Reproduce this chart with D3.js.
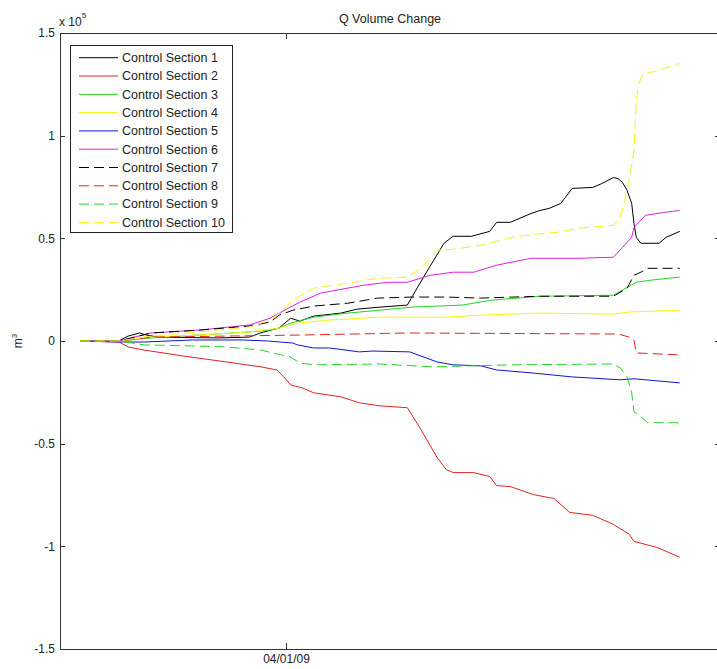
<!DOCTYPE html>
<html>
<head>
<meta charset="utf-8">
<script src="https://cdn.jsdelivr.net/npm/d3@7"></script>
<style>
  body { margin: 0; background: #fff; }
  svg { display: block; font-family: "Liberation Sans", Arial, sans-serif; }
  .axis path, .axis line { stroke: #333; shape-rendering: crispEdges; }
  .axis text { fill: #222; font-size: 12px; }
</style>
</head>
<body>
<script>
var width = 717,
    height = 669,
    plotLeft = 60, plotRight = 720, plotTop = 33, plotBottom = 649;

// days since 01/01/09, volume change in m3
var cs1 = [[0,0],[17,0],[21,2400],[26,3900],[29,2900],[34,1900],[60,1500],[74,1900],[79,4000],[84,5500],[87,6300],[92,11100],[96,9700],[102,12100],[114,13600],[121,15500],[131,16500],[143,17500],[145,21400],[150,31000],[159,47600],[163,51000],[171,51000],[179,53400],[182,57800],[188,57800],[197,62100],[201,63600],[205,64600],[210,67000],[215,74300],[224,74800],[228,76700],[233,79600],[235,79100],[237,77200],[239,73300],[241,67000],[242,57300],[243,50500],[245,47600],[253,47600],[256,50500],[262,53400]];
var cs2 = [[0,0],[17,-500],[21,-2900],[28,-4400],[45,-7300],[64,-10200],[79,-12600],[86,-14100],[89,-17500],[92,-21400],[97,-22800],[102,-25200],[114,-27200],[122,-30100],[131,-31600],[143,-32500],[149,-43200],[156,-56800],[160,-62600],[163,-64100],[172,-64100],[179,-66000],[182,-70400],[188,-70900],[198,-74800],[207,-76700],[214,-83500],[224,-84900],[233,-89300],[240,-94200],[242,-97600],[252,-100500],[262,-105300]];
var cs3 = [[0,0],[17,0],[31,1500],[52,2900],[74,4400],[83,5300],[87,6300],[92,8700],[102,11600],[117,13600],[131,15000],[145,16500],[167,17500],[180,19900],[201,21800],[233,22300],[237,24800],[243,28600],[249,29600],[262,31100]];
var cs4 = [[0,0],[17,0],[31,1900],[52,2900],[74,4400],[87,6300],[95,8700],[109,10200],[131,11600],[160,11600],[175,12600],[201,13600],[233,13100],[240,14100],[262,15000]];
var cs5 = [[0,0],[17,-500],[28,-500],[49,500],[71,500],[82,0],[93,-1000],[95,-1900],[102,-3400],[109,-3400],[122,-5300],[128,-4900],[144,-5300],[156,-10200],[163,-11600],[175,-12100],[182,-14100],[197,-15500],[215,-17500],[236,-18900],[242,-18400],[262,-20400]];
var cs6 = [[0,0],[17,0],[31,3900],[52,5300],[74,7800],[83,11100],[87,13600],[96,18900],[105,23300],[124,27200],[135,28600],[143,28600],[153,32000],[163,33500],[172,33500],[182,36900],[197,40300],[218,40300],[233,40800],[237,45600],[241,50500],[242,55300],[247,61200],[255,62600],[262,63600]];
var cs7 = [[0,0],[17,0],[31,3900],[52,5300],[74,7300],[83,9200],[87,12600],[93,15000],[102,17000],[117,18400],[130,20900],[145,21400],[160,21400],[175,20900],[189,21400],[201,21800],[233,21800],[239,25700],[242,32000],[245,33500],[248,35400],[262,35400]];
var cs8 = [[0,0],[17,0],[32,1900],[96,2900],[143,3900],[235,3400],[240,1900],[242,500],[243,-5800],[262,-6800]];
var cs9 = [[0,0],[17,0],[28,-1900],[49,-2400],[64,-2900],[79,-4400],[84,-5800],[92,-7800],[96,-10700],[102,-11600],[131,-11200],[154,-12600],[189,-11600],[233,-11200],[236,-13100],[239,-17500],[241,-25200],[242,-34500],[245,-36900],[248,-39800],[262,-39800]];
var cs10 = [[0,0],[17,0],[31,2400],[52,4400],[74,6800],[83,10200],[87,13600],[93,19900],[102,25700],[117,28200],[131,30600],[143,31100],[149,35400],[156,44200],[163,44700],[175,46600],[189,50500],[198,51900],[208,52900],[218,54900],[233,56300],[236,60200],[238,68400],[240,79600],[242,92700],[243,117000],[244,125200],[246,130100],[252,131500],[261,134900],[262,135000]];

var sectionNames = ["Control Section 1","Control Section 2","Control Section 3","Control Section 4","Control Section 5",
                    "Control Section 6","Control Section 7","Control Section 8","Control Section 9","Control Section 10"];
var yTicks = [-150000, -100000, -50000, 0, 50000, 100000, 150000];
var xTickDates = ["04/01/09"];

var colors = ["#000000","#e02424","#20d820","#f4f410","#1414d0","#e020e0","#000000","#e02424","#20d820","#f4f410"];
var dashes = [null,null,null,null,null,null,"10,5","10,5","10,5","10,5"];

var start = new Date(2009, 0, 1);
var parseDate = d3.timeParse("%m/%d/%y");
var series = [cs1,cs2,cs3,cs4,cs5,cs6,cs7,cs8,cs9,cs10].map(function(s, i) {
  return {name: sectionNames[i], values: s.map(function(p) {
    return {date: d3.timeDay.offset(start, p[0]), v: p[1]};
  })};
});

var svg = d3.select("body")
            .append("svg")
            .attr("width", width)
            .attr("height", height);

var x = d3.scaleTime()
          .domain([new Date(2008, 11, 23, 6), new Date(2009, 9, 7, 14)])
          .range([plotLeft, plotRight]);
var y = d3.scaleLinear()
          .domain([-150000, 150000])
          .range([plotBottom, plotTop]);

var fmtY = function(d) { return String(+(d / 100000).toFixed(1)); };

// axes (ticks point inward like matlab)
svg.append("g").attr("class", "axis")
   .attr("transform", "translate(0," + plotBottom + ")")
   .call(d3.axisBottom(x).tickValues(xTickDates.map(parseDate))
           .tickFormat(d3.timeFormat("%m/%d/%y")).tickSizeInner(-6).tickSizeOuter(0).tickPadding(5));
svg.append("g").attr("class", "axis")
   .attr("transform", "translate(0," + plotTop + ")")
   .call(d3.axisTop(x).tickValues(xTickDates.map(parseDate))
           .tickFormat("").tickSizeInner(-6).tickSizeOuter(0));
svg.append("g").attr("class", "axis")
   .attr("transform", "translate(" + plotLeft + ",0)")
   .call(d3.axisLeft(y).tickValues(yTicks).tickFormat(fmtY)
           .tickSizeInner(-5).tickSizeOuter(0).tickPadding(5));
svg.append("g").attr("class", "axis")
   .attr("transform", "translate(" + plotRight + ",0)")
   .call(d3.axisRight(y).tickValues(yTicks).tickFormat("")
           .tickSizeInner(-5).tickSizeOuter(0));

// lines
var valueLine = d3.line()
                  .x(function(d) { return x(d.date); })
                  .y(function(d) { return y(d.v); });

svg.append("g")
   .selectAll("path")
   .data(series)
   .enter()
   .append("path")
   .attr("d", function(d) { return valueLine(d.values); })
   .attr("fill", "none")
   .attr("stroke", function(d, i) { return colors[i]; })
   .attr("stroke-width", 1)
   .attr("stroke-dasharray", function(d, i) { return dashes[i]; });

// title, exponent, y label
svg.append("text")
   .attr("x", (plotLeft + plotRight) / 2)
   .attr("y", 23)
   .attr("text-anchor", "middle")
   .attr("font-size", "12.5px")
   .attr("fill", "#222")
   .text("Q Volume Change");

var expo = svg.append("text")
   .attr("x", 59)
   .attr("y", 26)
   .attr("font-size", "12px")
   .attr("fill", "#222");
expo.append("tspan").text("x 10");
expo.append("tspan").attr("dy", -8).attr("font-size", "8px").text("5");

var ylab = svg.append("text")
   .attr("transform", "translate(22," + y(0) + ") rotate(-90)")
   .attr("text-anchor", "middle")
   .attr("font-size", "12px")
   .attr("fill", "#222");
ylab.append("tspan").text("m");
ylab.append("tspan").attr("dy", -5).attr("font-size", "8px").text("3");

// legend
var legend = svg.append("g");
legend.append("rect")
      .attr("x", 70.5).attr("y", 45.5)
      .attr("width", 162).attr("height", 187)
      .attr("fill", "#fff")
      .attr("stroke", "#222");

var rows = legend.selectAll(".row")
      .data(series)
      .enter()
      .append("g")
      .attr("transform", function(d, i) { return "translate(0," + (57.7 + i * 18.3) + ")"; });
rows.append("line")
    .attr("x1", 79).attr("x2", 118)
    .attr("stroke", function(d, i) { return colors[i]; })
    .attr("stroke-dasharray", function(d, i) { return dashes[i]; });
rows.append("text")
    .attr("x", 122)
    .attr("dy", "0.35em")
    .attr("font-size", "12.5px")
    .attr("fill", "#222")
    .text(function(d) { return d.name; });
</script>
</body>
</html>
